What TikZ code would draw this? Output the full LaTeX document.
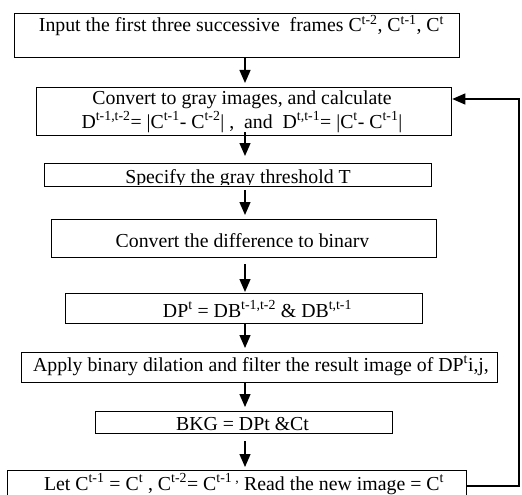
\documentclass[tikz,border=0pt]{standalone}
\usepackage{fontspec}
\setmainfont{Liberation Serif}
\usetikzlibrary{arrows.meta}
\begin{document}
\begin{tikzpicture}[x=1pt,y=-1pt,
  box/.style={draw, line width=1.3pt, inner sep=0pt, anchor=north west},
  txt/.style={inner sep=0pt, anchor=base, font=\fontsize{19.8}{24}\selectfont},
  arr/.style={line width=1.3pt, -{Triangle[length=13pt,width=11pt]}}]
\clip (0,0) rectangle (522,495);
\coordinate (ax) at (245,0);
% boxes
\node[box, minimum width=445pt, minimum height=44pt] (b1) at (14,13) {};
\node[box, minimum width=415pt, minimum height=48pt] (b2) at (36,87) {};
\node[box, minimum width=387pt, minimum height=23pt] (b3) at (44,163) {};
\node[box, minimum width=385pt, minimum height=38pt] (b4) at (51,219) {};
\node[box, minimum width=357pt, minimum height=30pt] (b5) at (65,293) {};
\node[box, minimum width=476pt, minimum height=30pt] (b6) at (21,352) {};
\node[box, minimum width=297pt, minimum height=22pt] (b7) at (95,411) {};
\node[box, minimum width=459pt, minimum height=34pt] (b8) at (7,470) {};
% texts
\node[txt] (t1) at (241.5,32) {Input the first three successive\ \ frames C\textsuperscript{t-2}, C\textsuperscript{t-1}, C\textsuperscript{t}};
\node[txt] (t2a) at (242,104) {Convert to gray images, and calculate};
\node[txt] (t2b) at (242,128) {D\textsuperscript{t-1,t-2}= |C\textsuperscript{t-1}- C\textsuperscript{t-2}| ,\ \ and\ \ D\textsuperscript{t,t-1}= |C\textsuperscript{t}- C\textsuperscript{t-1}|};
\begin{scope}
  \clip (b3.north west) rectangle (431,184);
  \node[txt] (t3) at (238,183.5) {Specify the gray threshold T};
\end{scope}
\begin{scope}
  \clip (b4.north west) rectangle (436,246);
  \node[txt] (t4) at (242.5,247) {Convert the difference to binary};
\end{scope}
\node[txt] (t5) at (257.5,317) {DP\textsuperscript{t} = DB\textsuperscript{t-1,t-2} \& DB\textsuperscript{t,t-1}};
\node[txt] (t6) at (261,371) {Apply binary dilation and filter the result image of DP\textsuperscript{t}i,j,};
\node[txt] (t7) at (242.5,430) {BKG = DPt \&Ct};
\node[txt] (t8) at (244,490) {Let C\textsuperscript{t-1} = C\textsuperscript{t} , C\textsuperscript{t-2}= C\textsuperscript{t-1 ,} Read the new image = C\textsuperscript{t}};
% arrows
\draw[arr, shorten >=4pt] (b1.south -| ax) -- (b2.north -| ax);
\draw[arr, shorten <=-4pt, shorten >=7pt] (b2.south -| ax) -- (b3.north -| ax);
\draw[arr, shorten <=3pt, shorten >=4pt] (b3.south -| ax) -- (b4.north -| ax);
\draw[arr, shorten <=6pt, shorten >=1pt] (b4.south -| ax) -- (b5.north -| ax);
\draw[arr, shorten >=4pt] (b5.south -| ax) -- (b6.north -| ax);
\draw[arr, shorten >=4pt] (b6.south -| ax) -- (b7.north -| ax);
\draw[arr, shorten <=7pt, shorten >=3pt] (b7.south -| ax) -- (b8.north -| ax);
\coordinate (fb1) at (519,486);
\coordinate (fb2) at (519,99);
\draw[arr] (b8.east |- fb1) -- (fb1) -- (fb2) -- (b2.east |- fb2);
\end{tikzpicture}
\end{document}
